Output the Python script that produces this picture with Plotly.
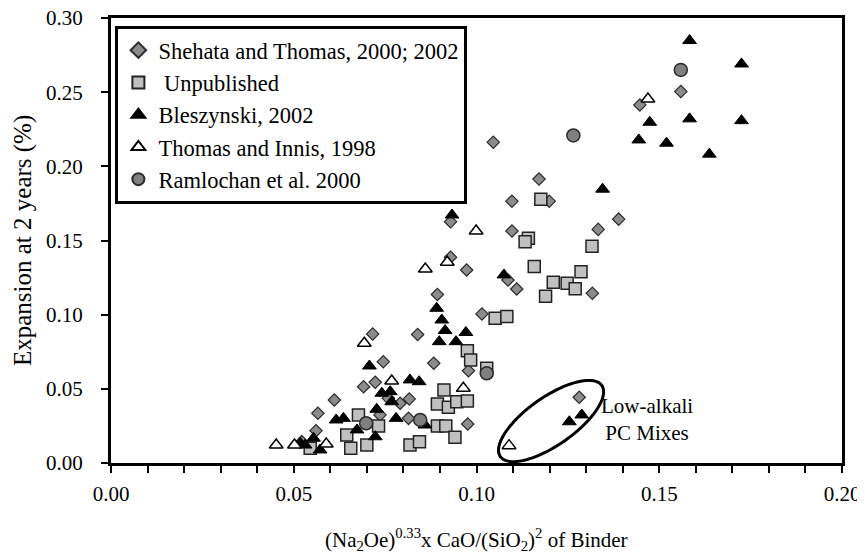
import numpy as np
import plotly.graph_objects as go

# ---- data ----
shehata_x = [0.1559, 0.1447, 0.1389, 0.1333, 0.1046, 0.1171, 0.1097, 0.1199, 0.1097, 0.1086,
             0.1110, 0.1317, 0.1015, 0.0929, 0.0929, 0.0973, 0.0893, 0.0839, 0.0716, 0.0745,
             0.0883, 0.0978, 0.0691, 0.0723, 0.0759, 0.0791, 0.0816, 0.0736, 0.0814, 0.0976,
             0.0522, 0.0561, 0.0566, 0.0611, 0.1281]
shehata_y = [0.2504, 0.2414, 0.1644, 0.1575, 0.2163, 0.1914, 0.1765, 0.1765, 0.1564, 0.1234,
             0.1173, 0.1144, 0.1005, 0.1627, 0.1387, 0.1301, 0.1136, 0.0866, 0.0870, 0.0683,
             0.0672, 0.0622, 0.0514, 0.0544, 0.0436, 0.0403, 0.0432, 0.0324, 0.0301, 0.0263,
             0.0144, 0.0218, 0.0335, 0.0425, 0.0443]

unpub_x = [0.1176, 0.1142, 0.1133, 0.1316, 0.1158, 0.1286, 0.1210, 0.1248, 0.1270, 0.1189,
           0.1051, 0.1083, 0.0975, 0.0984, 0.1028, 0.0911, 0.0893, 0.0923, 0.0946, 0.0975,
           0.0893, 0.0916, 0.0941, 0.0818, 0.0844, 0.0732, 0.0700, 0.0677, 0.0645, 0.0656,
           0.0545]
unpub_y = [0.1778, 0.1515, 0.1492, 0.1461, 0.1324, 0.1290, 0.1218, 0.1212, 0.1175, 0.1124,
           0.0976, 0.0987, 0.0757, 0.0695, 0.0639, 0.0492, 0.0398, 0.0376, 0.0413, 0.0418,
           0.0249, 0.0249, 0.0173, 0.0121, 0.0144, 0.0249, 0.0121, 0.0324, 0.0189, 0.0099,
           0.0099]

blesz_x = [0.1583, 0.1725, 0.1474, 0.1583, 0.1725, 0.1444, 0.1520, 0.1637, 0.1345, 0.1075,
           0.0933, 0.0891, 0.0905, 0.0914, 0.0898, 0.0944, 0.0971, 0.0707, 0.0818, 0.0843,
           0.0741, 0.0764, 0.0768, 0.0727, 0.0723, 0.0780, 0.0859, 0.0616, 0.0636, 0.0673,
           0.0518, 0.0531, 0.0572, 0.0554, 0.1254, 0.1288]
blesz_y = [0.2848, 0.2690, 0.2297, 0.2320, 0.2308, 0.2178, 0.2156, 0.2082, 0.1846, 0.1268,
           0.1672, 0.1043, 0.0964, 0.0893, 0.0818, 0.0818, 0.0880, 0.0654, 0.0560, 0.0548,
           0.0470, 0.0481, 0.0413, 0.0362, 0.0177, 0.0301, 0.0256, 0.0290, 0.0301, 0.0223,
           0.0133, 0.0121, 0.0088, 0.0167, 0.0278, 0.0324]

innis_x = [0.1469, 0.0999, 0.0860, 0.0920, 0.0693, 0.0768, 0.0964, 0.0452, 0.0502, 0.0589, 0.1089]
innis_y = [0.2454, 0.1564, 0.1308, 0.1353, 0.0807, 0.0553, 0.0504, 0.0121, 0.0121, 0.0128, 0.0117]

ramlo_x = [0.1559, 0.1265, 0.0698, 0.0846, 0.1028]
ramlo_y = [0.2650, 0.2208, 0.0268, 0.0290, 0.0605]

x_ticks = [0.00, 0.05, 0.10, 0.15, 0.20]
y_ticks = [0.00, 0.05, 0.10, 0.15, 0.20, 0.25, 0.30]

FONT = "Liberation Serif"

fig = go.Figure()
fig.add_trace(go.Scatter(x=shehata_x, y=shehata_y, mode="markers", name="Shehata and Thomas, 2000; 2002",
                         marker=dict(symbol="diamond", size=9.5, color="#8c8c8c",
                                     line=dict(color="#2a2a2a", width=1.2))))
fig.add_trace(go.Scatter(x=unpub_x, y=unpub_y, mode="markers", name=" Unpublished",
                         marker=dict(symbol="square", size=12, color="#c0c0c0",
                                     line=dict(color="#222222", width=1.5))))
fig.add_trace(go.Scatter(x=blesz_x, y=blesz_y, mode="markers", name="Bleszynski, 2002",
                         marker=dict(symbol="triangle-up", size=12, color="#000000",
                                     line=dict(color="#000000", width=1))))
fig.add_trace(go.Scatter(x=innis_x, y=innis_y, mode="markers", name="Thomas and Innis, 1998",
                         marker=dict(symbol="triangle-up", size=12, color="#ffffff",
                                     line=dict(color="#000000", width=1.5))))
fig.add_trace(go.Scatter(x=ramlo_x, y=ramlo_y, mode="markers", name="Ramlochan et al. 2000",
                         marker=dict(symbol="circle", size=13, color="#808080",
                                     line=dict(color="#2a2a2a", width=1.5))))

# ellipse around low-alkali mixes (annotation)
px_per_x = 3660.0
px_per_y = 1483.0
cx, cy = 0.1204, 0.0283
a_px, b_px, ang = 62.0, 24.0, np.deg2rad(35)
t = np.linspace(0, 2 * np.pi, 121)
ex_px = a_px * np.cos(t) * np.cos(ang) - b_px * np.sin(t) * np.sin(ang)
ey_px = a_px * np.cos(t) * np.sin(ang) + b_px * np.sin(t) * np.cos(ang)
ex = cx + ex_px / px_per_x
ey = cy + ey_px / px_per_y
path = "M " + " L ".join(f"{x:.5f},{y:.5f}" for x, y in zip(ex, ey)) + " Z"
fig.add_shape(type="path", path=path, xref="x", yref="y", line=dict(color="black", width=3))

fig.add_annotation(x=0.1466, y=0.029, xref="x", yref="y", text="Low-alkali<br>PC Mixes",
                   showarrow=False, font=dict(family=FONT, size=21, color="black"), align="center")

# axis titles
fig.add_annotation(x=-0.121, y=0.5, xref="paper", yref="paper", text="Expansion at 2 years (%)",
                   textangle=-90, showarrow=False, xanchor="center", yanchor="middle",
                   font=dict(family=FONT, size=25, color="black"))
fig.add_annotation(x=0.5, y=-0.173, xref="paper", yref="paper",
                   text="(Na<sub>2</sub>Oe)<sup>0.33</sup>x CaO/(SiO<sub>2</sub>)<sup>2</sup> of Binder",
                   showarrow=False, xanchor="center", yanchor="middle",
                   font=dict(family=FONT, size=21, color="black"))

# the page body adds an 8px offset, so the figure is placed accordingly
fig.update_layout(
    width=857, height=546,
    margin=dict(l=102.5, r=23, t=10, b=91),
    paper_bgcolor="white", plot_bgcolor="white",
    font=dict(family=FONT, size=20, color="black"),
    showlegend=True,
    legend=dict(x=0.006, y=0.982, xanchor="left", yanchor="top",
                bgcolor="white", bordercolor="black", borderwidth=3,
                font=dict(family=FONT, size=22.5, color="black"),
                itemsizing="constant", tracegroupgap=0),
)
fig.update_xaxes(range=[0, 0.2], tickvals=x_ticks, ticktext=[f"{v:.2f}" for v in x_ticks],
                 ticks="outside", ticklen=7, tickwidth=1.5, tickcolor="black",
                 minor=dict(dtick=0.01, ticks="outside", ticklen=7, tickwidth=1.5, tickcolor="black"),
                 showline=True, linecolor="black", linewidth=3, mirror=True,
                 showgrid=False, zeroline=False, automargin=False, ticklabelstandoff=3,
                 ticklabeloverflow="allow",
                 tickfont=dict(family=FONT, size=21))
fig.update_yaxes(range=[0, 0.3], tickvals=y_ticks, ticktext=[f"{v:.2f}" for v in y_ticks],
                 ticks="outside", ticklen=7, tickwidth=1.5, tickcolor="black",
                 showline=True, linecolor="black", linewidth=3, mirror=True,
                 showgrid=False, zeroline=False, ticklabelstandoff=14, automargin=False,
                 ticklabeloverflow="allow",
                 tickfont=dict(family=FONT, size=21))

fig.write_html("out.html")
